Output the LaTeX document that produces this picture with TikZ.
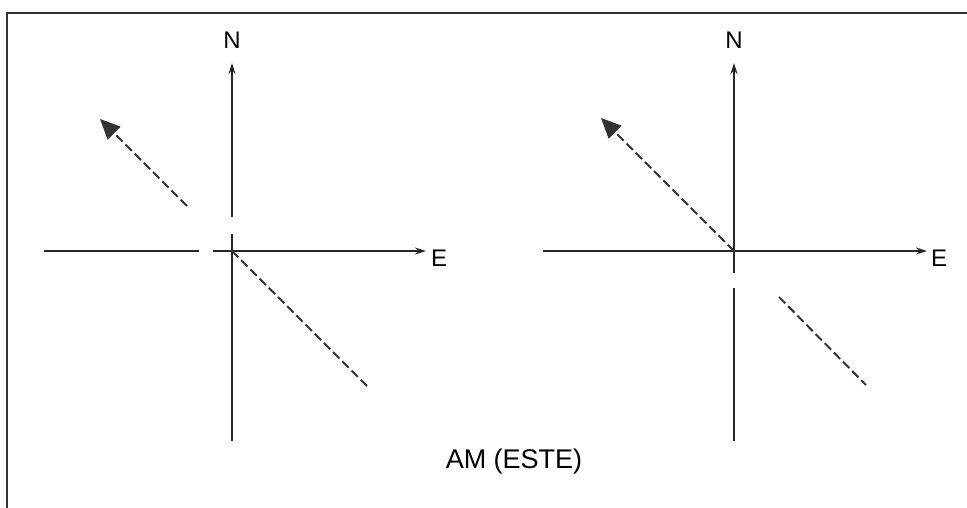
\documentclass[tikz,border=0pt]{standalone}
\usepackage{fontspec}
\setmainfont{Liberation Sans}
\usetikzlibrary{arrows.meta}
\begin{document}
\begin{tikzpicture}[x=1pt,y=-1pt,
  axis/.style={line width=2pt,draw=black!85},
  axisarrow/.style={axis,-{Stealth[length=11pt,width=7pt]}},
  dashline/.style={line width=2pt,draw=black!80,dash pattern=on 9pt off 4pt},
  bigarrow/.style={dashline,-{Triangle[length=20pt,width=18pt]}},
  lbl/.style={font=\fontsize{24}{28}\selectfont,inner sep=0pt},
  frame/.style={line width=2pt,draw=black!80}]
\useasboundingbox (0,0) rectangle (967,508);
% frame
\coordinate (f1) at (7,508);
\coordinate (f2) at (7,13);
\coordinate (f3) at (967,13);
\draw[frame] (f1) -- (f2) -- (f3);
% left diagram
\coordinate (lo) at (232,251);
\coordinate (lnb) at (232,441);
\coordinate (lnt) at (232,63);
\coordinate (lgv) at (232,217);
\coordinate (lgv2) at (232,234);
\coordinate (lw) at (44,251);
\coordinate (lgh) at (199,251);
\coordinate (lgh2) at (213,251);
\coordinate (le) at (426,251);
\draw[axis] (lnb) -- (lgv2);
\draw[axisarrow] (lgv) -- (lnt);
\draw[axis] (lw) -- (lgh);
\draw[axisarrow] (lgh2) -- (le);
\node[lbl] (ln) at (232,40) {N};
\node[lbl,anchor=west] (lE) at (431,258) {E};
\coordinate (ld1) at (367,386);
\coordinate (ld2) at (187,206);
\coordinate (ltip) at (100,119);
\draw[dashline] (lo) -- (ld1);
\draw[bigarrow] (ld2) -- (ltip);
% right diagram
\coordinate (ro) at (734,251);
\coordinate (rnb) at (734,441);
\coordinate (rnt) at (734,63);
\coordinate (rgv) at (734,273);
\coordinate (rgv2) at (734,288);
\coordinate (rw) at (543,251);
\coordinate (re) at (927,251);
\draw[axis] (rnb) -- (rgv2);
\draw[axisarrow] (rgv) -- (rnt);
\draw[axisarrow] (rw) -- (re);
\node[lbl] (rn) at (734,40) {N};
\node[lbl,anchor=west] (rE) at (931,258) {E};
\coordinate (rd1) at (779,297);
\coordinate (rd2) at (866,385);
\coordinate (rtip) at (601,118);
\draw[bigarrow] (ro) -- (rtip);
\draw[dashline] (rd1) -- (rd2);
% caption
\node[font=\fontsize{27}{31}\selectfont,inner sep=0pt] (cap) at (514,462) {AM (ESTE)};
\end{tikzpicture}
\end{document}
